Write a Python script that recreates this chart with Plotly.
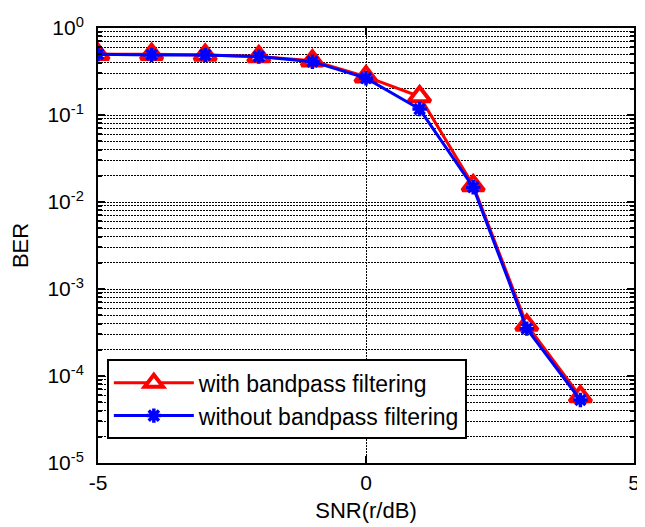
import plotly.graph_objects as go

snr = [-5, -4, -3, -2, -1, 0, 1, 2, 3, 4]
ber_with = [0.50, 0.50, 0.49, 0.47, 0.42, 0.276, 0.163, 0.0155, 3.86e-4, 5.8e-5]
ber_without = [0.50, 0.49, 0.49, 0.47, 0.41, 0.265, 0.117, 0.0148, 3.5e-4, 5.3e-5]

y_major = [1e-5, 1e-4, 1e-3, 1e-2, 1e-1, 1e0]
y_major_text = ["10<sup>-5</sup>", "10<sup>-4</sup>", "10<sup>-3</sup>",
                "10<sup>-2</sup>", "10<sup>-1</sup>", "10<sup>0</sup>"]
y_minor = [d * m for d in y_major[:-1] for m in range(2, 10)]
x_ticks = [-5, 0, 5]

font = "Liberation Sans, Arial, sans-serif"

fig = go.Figure()
fig.add_trace(go.Scatter(
    x=snr, y=ber_with, name="with bandpass filtering", mode="lines+markers",
    line=dict(color="#ff0000", width=3),
    marker=dict(symbol="triangle-up", size=19, color="white",
                line=dict(color="#ff0000", width=4)),
    legendgroup="a",
))
fig.add_trace(go.Scatter(
    x=snr, y=ber_without, name="without bandpass filtering", mode="lines+markers",
    line=dict(color="#0000ff", width=3),
    marker=dict(symbol="asterisk", size=12, color="#0000ff",
                line=dict(color="#0000ff", width=3.5)),
    legendgroup="b",
))

grid_dash = "2px,1px"
# page body adds an 8px offset, so the figure is sized to compensate
fig.update_layout(
    width=637, height=519,
    margin=dict(l=86, r=5, t=20, b=64),
    paper_bgcolor="white", plot_bgcolor="white",
    font=dict(family=font, size=21, color="black"),
    showlegend=True,
    legend=dict(
        x=0.0165, y=0.2385, xanchor="left", yanchor="top",
        bgcolor="white", bordercolor="black", borderwidth=2,
        font=dict(size=23, family=font), tracegroupgap=0,
        traceorder="grouped", itemwidth=80,
    ),
    xaxis=dict(
        range=[-5, 5], tickvals=x_ticks, ticktext=[str(v) for v in x_ticks],
        showline=True, linecolor="black", linewidth=2, mirror="ticks",
        ticks="inside", ticklen=7, tickcolor="black", tickwidth=1.5,
        showgrid=True, gridcolor="black", gridwidth=1, griddash=grid_dash,
        zeroline=False, ticklabelstandoff=0,
        title=dict(text="SNR(r/dB)", font=dict(size=22), standoff=9),
        tickfont=dict(size=21),
    ),
    yaxis=dict(
        type="log", range=[-5, 0],
        tickvals=y_major, ticktext=y_major_text,
        showline=True, linecolor="black", linewidth=2, mirror="ticks",
        ticks="inside", ticklen=7, tickcolor="black", tickwidth=1.5,
        showgrid=True, gridcolor="black", gridwidth=1, griddash=grid_dash,
        zeroline=False, ticklabelstandoff=8,
        minor=dict(tickvals=y_minor, ticks="inside", ticklen=4,
                   tickcolor="black", showgrid=True, gridcolor="black",
                   gridwidth=1, griddash=grid_dash),
        title=dict(text="BER", font=dict(size=22), standoff=19),
        tickfont=dict(size=21),
    ),
)

fig.write_html("out.html")
